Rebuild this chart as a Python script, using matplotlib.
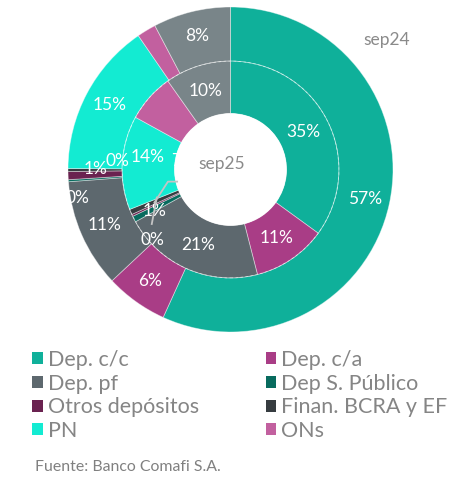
import matplotlib.pyplot as plt
import numpy as np
from matplotlib.patches import Patch, Circle

plt.rcParams['font.family'] = ['Lato', 'DejaVu Sans']

# categorias y colores (la ultima no aparece en la leyenda)
categorias = ['Dep. c/c', 'Dep. c/a', 'Dep. pf', 'Dep S. Público', 'Otros depósitos',
              'Finan. BCRA y EF', 'PN', 'ONs', 'Otros pasivos']
colores = ['#0fb09a', '#a93d86', '#5d686e', '#086b5e', '#6a2250',
           '#363c40', '#13ebd2', '#c2609f', '#798589']

# participacion (%) - anillo externo sep24, interno sep25
sep24 = [56.8, 6.2, 10.8, 0.2, 0.8, 0.3, 15.3, 1.9, 7.7]
sep25 = [35.0, 11.0, 21.0, 0.9, 0.3, 0.8, 14.0, 7.2, 9.8]

R_OUT = 1.0
R_MID = 0.667
R_HOLE = 0.345
GRIS = '#8a8a8a'

fig = plt.figure(figsize=(4.6, 4.8), dpi=100)
ax = fig.add_axes([68/460, 148/480, 325/460, 325/480])

edge = dict(edgecolor=(1, 1, 1, 0.45), linewidth=0.6)
ax.pie(sep24, radius=R_OUT, colors=colores, startangle=90, counterclock=False,
       wedgeprops=dict(width=R_OUT - R_MID, **edge))
ax.pie(sep25, radius=R_MID, colors=colores, startangle=90, counterclock=False,
       wedgeprops=dict(width=R_MID - R_HOLE, **edge))
ax.add_patch(Circle((0, 0), R_MID, fill=False, ec=(1, 1, 1, 0.5), lw=0.6, ls=(0, (3, 3)), zorder=2))
ax.set_xlim(-1, 1)
ax.set_ylim(-1, 1)
ax.set_aspect('equal')
ax.axis('off')


def angulos(vals):
    c = np.cumsum(vals)
    mid = c - np.array(vals) / 2
    return np.deg2rad(90 - 360 * mid / 100)


def pct(v):
    return '%d%%' % int(round(v))


def polar(r, a):
    return r * np.cos(a), r * np.sin(a)


lbl = dict(color='white', fontsize=12.5, ha='center', va='center', zorder=3)

# etiquetas anillo externo: (radio, desvio angular en grados)
a24 = angulos(sep24)
ajuste24 = {3: (0.955, 6.5), 4: (0.83, -2.4), 5: (0.70, -4.5)}
for i, v in enumerate(sep24):
    if i == 7:
        continue
    r, d = ajuste24.get(i, (0.845, 0))
    x, y = polar(r, a24[i] + np.deg2rad(d))
    ax.text(x, y, pct(v), **lbl)

# etiquetas anillo interno
a25 = angulos(sep25)
r_in = 0.506
for i in [0, 1, 2, 8]:
    ax.text(*polar(r_in, a25[i]), pct(sep25[i]), **lbl)
xpn, ypn = polar(0.513, a25[6] - np.deg2rad(5))
ax.text(xpn, ypn, pct(sep25[6]), **lbl)
ax.text(xpn + 0.216, ypn - 0.025, pct(sep25[7]), **lbl)  # queda tapada por el centro

# etiquetas con linea guia (porciones chicas)
gl = dict(color='#c4c4c4', lw=1.3, zorder=5, solid_capstyle='butt')
xa, ya = polar(R_HOLE, a25[3])
ax.plot([xa - 0.016, xa - 0.078, xa - 0.164], [ya + 0.083, ya + 0.083, ya - 0.05], **gl)
ax.text(xa - 0.158, ya - 0.10, pct(sep25[3]), **lbl)
xb, yb = polar(r_in, a25[4])
ax.plot([xb + 0.006, xb - 0.027], [yb + 0.047, yb - 0.127], **gl)
ax.text(xb - 0.024, yb - 0.217, pct(sep25[4]), **lbl)

ax.add_patch(Circle((0, 0), R_HOLE, fc='white', ec='none', zorder=4))
ax.text(-0.052, 0.031, 'sep25', color=GRIS, fontsize=12.5, ha='center', va='center', zorder=6)
ax.text(0.96, 0.80, 'sep24', color=GRIS, fontsize=12.5, ha='center', va='center')

# leyenda (por filas)
orden = [0, 2, 4, 6, 1, 3, 5, 7]
handles = [Patch(facecolor=colores[i], edgecolor='none', label=categorias[i]) for i in orden]
fig.legend(handles=handles, ncol=2, loc='upper left', bbox_to_anchor=(32/460, 1 - 350/480),
           frameon=False, fontsize=15.5, labelcolor='#858585', handlelength=0.5, handleheight=0.5,
           handletextpad=0.23, columnspacing=3.1, labelspacing=0.17, borderpad=0, borderaxespad=0)

fig.text(35/460, 1 - 467/480, 'Fuente: Banco Comafi S.A.', color='#808080', fontsize=11.4,
         ha='left', va='center')

fig.savefig('out.png', dpi=100, facecolor='white')
